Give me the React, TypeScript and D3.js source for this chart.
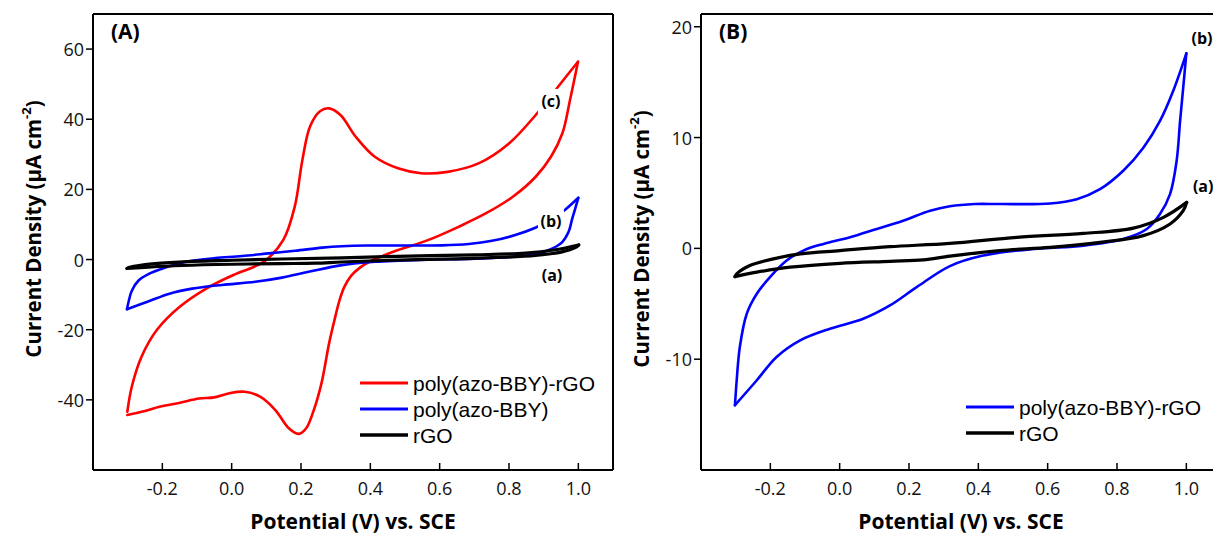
import * as d3 from "d3";

const W = 1213;
const H = 536;

const potentialTicks = [-0.2, 0, 0.2, 0.4, 0.6, 0.8, 1.0];
const densityTicksA = [-40, -20, 0, 20, 40, 60];
const densityTicksB = [-10, 0, 10, 20];

// poly(azo-BBY)-rGO in panel A : [E (V), j (uA cm-2)]
const redAnodic = [
  [-0.301, -43.4], [-0.288, -36.2], [-0.26, -27.7], [-0.216, -20.1], [-0.149, -13.4],
  [-0.072, -8.2], [0.005, -4.4], [0.093, -0.6], [0.149, 5.6], [0.182, 15.1],
  [0.204, 28.4], [0.226, 37.9], [0.254, 42.2], [0.281, 43.1], [0.314, 41.2],
  [0.358, 35.0], [0.413, 29.3], [0.48, 26.0], [0.546, 24.6], [0.623, 25.0],
  [0.712, 27.4], [0.8, 33.1], [0.877, 41.2], [0.949, 50.2], [0.999, 56.4],
];
const redCathodic = [
  [0.999, 56.4], [0.976, 45.5], [0.954, 36.0], [0.921, 29.3], [0.877, 23.6],
  [0.811, 17.9], [0.734, 13.2], [0.656, 9.4], [0.568, 5.6], [0.48, 2.7],
  [0.44, 1.2], [0.4, -0.5], [0.37, -2.3], [0.345, -4.6], [0.325, -7.8],
  [0.31, -12.0], [0.296, -17.5], [0.281, -23.9], [0.259, -35.3], [0.237, -42.9],
  [0.215, -48.1], [0.193, -49.7], [0.165, -48.1], [0.126, -42.9], [0.082, -39.1],
  [0.038, -37.7], [-0.006, -38.1], [-0.05, -39.3], [-0.094, -39.6], [-0.149, -40.8],
  [-0.205, -41.9], [-0.26, -43.4], [-0.301, -44.3],
];

// poly(azo-BBY) (A) / poly(azo-BBY)-rGO (B), blue
const blueAnodic = [
  [-0.302, -14.15], [-0.297, -11.9], [-0.288, -8.9], [-0.268, -5.9], [-0.239, -4.1],
  [-0.201, -2.6], [-0.153, -1.1], [-0.105, -0.2], [-0.047, 0.4], [0.03, 1.0],
  [0.107, 1.75], [0.183, 2.5], [0.261, 3.4], [0.318, 3.8], [0.39, 4.0],
  [0.462, 4.0], [0.607, 4.05], [0.684, 4.44], [0.751, 5.34], [0.818, 7.0],
  [0.876, 9.08], [0.924, 11.5], [0.962, 14.2], [1.0, 17.6],
];
const blueCathodic = [
  [1.0, 17.6], [0.991, 14.5], [0.982, 11.5], [0.972, 7.9], [0.953, 4.9],
  [0.924, 3.1], [0.886, 1.75], [0.818, 0.85], [0.703, 0.25], [0.559, -0.05],
  [0.414, -0.65], [0.318, -1.6], [0.222, -3.5], [0.145, -5.15], [0.068, -6.35],
  [-0.028, -7.25], [-0.114, -8.3], [-0.182, -9.8], [-0.239, -11.9], [-0.302, -14.15],
];

// rGO, black
const rgoAnodic = [
  [-0.302, -2.55], [-0.297, -2.3], [-0.259, -1.55], [-0.191, -0.95], [-0.114, -0.5],
  [0.001, -0.2], [0.145, 0.15], [0.318, 0.45], [0.511, 1.0], [0.703, 1.35],
  [0.847, 1.83], [0.934, 2.8], [1.001, 4.15],
];
const rgoCathodic = [
  [1.001, 4.15], [0.991, 3.4], [0.953, 2.2], [0.876, 1.15], [0.751, 0.54],
  [0.607, 0.09], [0.462, -0.2], [0.318, -0.7], [0.241, -1.04], [0.145, -1.17],
  [0.001, -1.35], [-0.143, -1.7], [-0.239, -2.15], [-0.302, -2.55],
];

const legendA = ["poly(azo-BBY)-rGO", "poly(azo-BBY)", "rGO"];
const legendB = ["poly(azo-BBY)-rGO", "rGO"];

const tickFont = "'Open Sans', Lato, sans-serif";
const legendFont = "'Liberation Sans', Arial, sans-serif";

function Panel({ box, yDomain, yTicks, curves, legend, legendX, legendY, tag, labels, titleY, right }) {
  const x = d3.scaleLinear().domain([-0.4, 1.1]).range([box.left, box.right]);
  const y = d3.scaleLinear().domain(yDomain).range([box.bottom, box.top]);
  const line = d3
    .line()
    .x((d) => x(d[0]))
    .y((d) => y(d[1]))
    .curve(d3.curveCatmullRom.alpha(0.5));

  return (
    <g>
      {curves.map((c, i) => (
        <g key={i}>
          {c.branches.map((b, j) => (
            <path
              key={j}
              d={line(b)}
              fill="none"
              stroke={c.color}
              strokeWidth={c.width}
              strokeLinejoin="round"
              strokeLinecap="round"
            />
          ))}
        </g>
      ))}

      {labels.map((l) => (
        <g key={l.text}>
          {l.knockout && (
            <rect x={x(l.e) - 13} y={y(l.j) - 18} width={26} height={26} fill="white" />
          )}
          <text
            x={x(l.e)}
            y={y(l.j)}
            textAnchor={l.anchor}
            fontFamily={tickFont}
            fontWeight="bold"
            fontSize={16}
          >
            {l.text}
          </text>
        </g>
      ))}

      {/* frame */}
      <line x1={box.left} x2={box.left} y1={box.top} y2={box.bottom} stroke="#000" strokeWidth={2} />
      <line x1={box.left} x2={box.right} y1={box.bottom} y2={box.bottom} stroke="#000" strokeWidth={2} />
      <line x1={box.left} x2={box.right} y1={box.top} y2={box.top} stroke="#000" strokeWidth={2} />
      {right && (
        <line x1={box.right} x2={box.right} y1={box.top} y2={box.bottom} stroke="#000" strokeWidth={2} />
      )}

      {potentialTicks.map((t) => (
        <g key={t}>
          <line x1={x(t)} x2={x(t)} y1={box.bottom} y2={box.bottom - 7} stroke="#000" strokeWidth={1.5} />
          <text x={x(t)} y={box.bottom + 25} textAnchor="middle" fontFamily={tickFont} fontSize={18} fill="#111">
            {t.toFixed(1)}
          </text>
        </g>
      ))}
      {yTicks.map((t) => (
        <g key={t}>
          <line x1={box.left - 7} x2={box.left} y1={y(t)} y2={y(t)} stroke="#000" strokeWidth={1.5} />
          <text
            x={box.left - 9}
            y={y(t)}
            textAnchor="end"
            dominantBaseline="central"
            fontFamily={tickFont}
            fontSize={18}
            fill="#111"
          >
            {String(t)}
          </text>
        </g>
      ))}

      <text
        x={(box.left + box.right) / 2}
        y={529}
        textAnchor="middle"
        fontFamily={tickFont}
        fontWeight="bold"
        fontSize={21}
      >
        Potential (V) vs. SCE
      </text>
      <text
        transform={`translate(${box.left - 52},${titleY}) rotate(-90)`}
        textAnchor="middle"
        fontFamily={tickFont}
        fontWeight="bold"
        fontSize={20.5}
      >
        Current Density (μA cm
        <tspan dy={-10} fontSize={13}>-2</tspan>
        <tspan dy={10}>)</tspan>
      </text>

      <text x={box.left + 18} y={39} fontFamily={tickFont} fontWeight="bold" fontSize={21}>
        {tag}
      </text>

      {legend.map((name, i) => (
        <g key={name}>
          <line
            x1={legendX}
            x2={legendX + 48}
            y1={legendY + i * 26}
            y2={legendY + i * 26}
            stroke={curves[i].color}
            strokeWidth={curves[i].width + 0.5}
          />
          <text
            x={legendX + 53}
            y={legendY + i * 26}
            dominantBaseline="central"
            fontFamily={legendFont}
            fontSize={21}
          >
            {name}
          </text>
        </g>
      ))}
    </g>
  );
}

export default function App() {
  const boxA = { left: 93, right: 613, top: 14, bottom: 470 };
  const boxB = { left: 701, right: 1221, top: 14, bottom: 470 };
  const red = { color: "#ff0000", width: 2.6, branches: [redAnodic, redCathodic] };
  const blue = { color: "#0000ff", width: 2.6, branches: [blueAnodic, blueCathodic] };
  const black = { color: "#000000", width: 3.2, branches: [rgoAnodic, rgoCathodic] };

  return (
    <div style={{ position: "absolute", left: 0, top: 0 }}>
      <svg width={W} height={H} style={{ display: "block" }}>
        <rect x={0} y={0} width={W} height={H} fill="white" />
        <Panel
          box={boxA}
          yDomain={[-60, 70]}
          yTicks={densityTicksA}
          curves={[red, blue, black]}
          legend={legendA}
          legendX={360}
          legendY={383}
          tag="(A)"
          titleY={229}
          right={true}
          labels={[
            { text: "(c)", e: 0.921, j: 43.5, anchor: "middle", knockout: true },
            { text: "(b)", e: 0.921, j: 9.3, anchor: "middle", knockout: true },
            { text: "(a)", e: 0.924, j: -6.1, anchor: "middle", knockout: false },
          ]}
        />
        <Panel
          box={boxB}
          yDomain={[-20, 21.15]}
          yTicks={densityTicksB}
          curves={[blue, black]}
          legend={legendB}
          legendX={966}
          legendY={407}
          tag="(B)"
          titleY={239}
          right={true}
          labels={[
            { text: "(b)", e: 1.015, j: 18.44, anchor: "start", knockout: false },
            { text: "(a)", e: 1.019, j: 5.08, anchor: "start", knockout: false },
          ]}
        />
      </svg>
    </div>
  );
}
